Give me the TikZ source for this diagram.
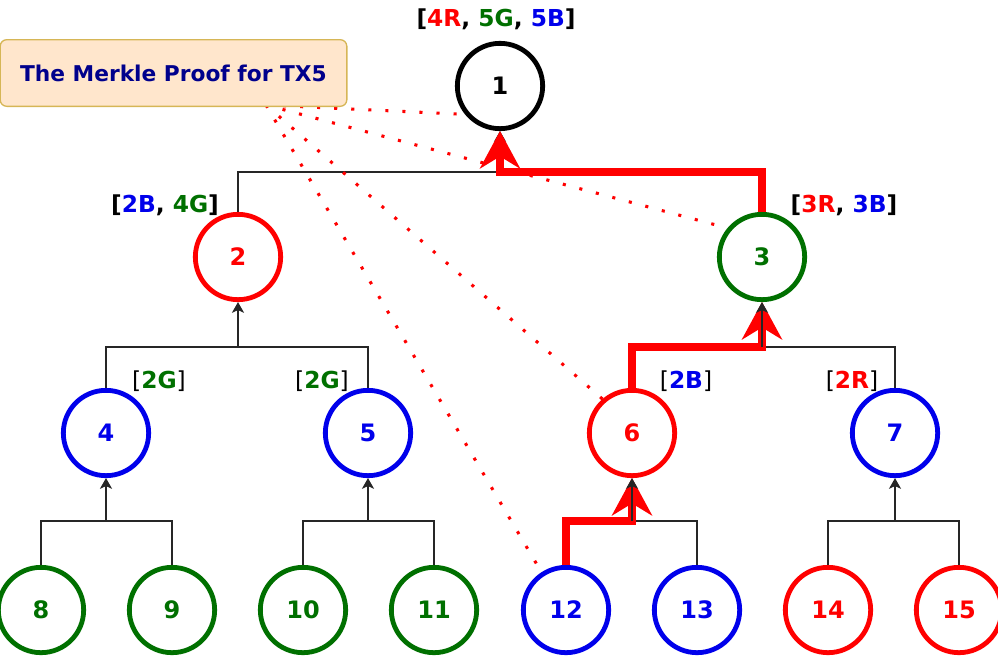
\documentclass[tikz,border=0pt]{standalone}
\usepackage{fontspec}
\setmainfont{DejaVu Sans}
\usetikzlibrary{arrows.meta}

\definecolor{hred}{RGB}{255,0,0}
\definecolor{hgreen}{RGB}{0,112,0}
\definecolor{hblue}{RGB}{0,0,235}
\definecolor{hnavy}{RGB}{0,0,140}
\definecolor{boxfill}{RGB}{255,230,204}
\definecolor{boxdraw}{RGB}{214,182,86}

\tikzset{every picture/.style={line width=0.75pt}}
\tikzset{
  hnode/.style={circle,draw=#1,text=#1,line width=3.6pt,minimum size=64pt,inner sep=0pt,
    font=\fontsize{18}{21}\selectfont\bfseries},
  hlabel/.style={inner sep=0.75pt,font=\fontsize{17.5}{20}\selectfont\bfseries},
  tree/.style={draw=black!85,line width=1.4pt},
  up/.style={tree,-{Stealth[length=8pt,width=9pt,inset=2pt]}},
  proof/.style={draw=hred,line width=5.5pt,-{Stealth[length=28pt,width=30pt,inset=9pt]}},
  proofdot/.style={draw=hred,line width=2.3pt,dash pattern=on 2.3pt off 10.5pt},
  titlebox/.style={draw=boxdraw,fill=boxfill,rounded corners=5pt,line width=1pt,
    minimum width=260pt,minimum height=50pt,text=hnavy,font=\fontsize{16.3}{19}\selectfont\bfseries},
}

\begin{document}
\begin{tikzpicture}[x=0.75pt,y=0.75pt,yscale=-1,xscale=1]
\useasboundingbox (0,0) rectangle (998,664);

%Shape: Circle (root)
\node[hnode=black] (n1) at (500,86) {1};
%Shape: Circle (level 1)
\node[hnode=hred] (n2) at (238,257) {2};
\node[hnode=hgreen] (n3) at (762,257) {3};
%Shape: Circle (level 2)
\node[hnode=hblue] (n4) at (106,433) {4};
\node[hnode=hblue] (n5) at (368,433) {5};
\node[hnode=hred] (n6) at (632,433) {6};
\node[hnode=hblue] (n7) at (895,433) {7};
%Shape: Circle (leaves)
\node[hnode=hgreen] (n8) at (41,610) {8};
\node[hnode=hgreen] (n9) at (172,610) {9};
\node[hnode=hgreen] (n10) at (303,610) {10};
\node[hnode=hgreen] (n11) at (434,610) {11};
\node[hnode=hblue] (n12) at (566,610) {12};
\node[hnode=hblue] (n13) at (697,610) {13};
\node[hnode=hred] (n14) at (828,610) {14};
\node[hnode=hred] (n15) at (959,610) {15};

%Joints
\coordinate (j1) at (n1 |- 0,172);
\coordinate (j2) at (n2 |- 0,347);
\coordinate (j3) at (n3 |- 0,347);
\coordinate (j4) at (n4 |- 0,521);
\coordinate (j5) at (n5 |- 0,521);
\coordinate (j6) at (n6 |- 0,521);
\coordinate (j7) at (n7 |- 0,521);

%Straight Lines (tree)
\draw[tree] (n2.north) |- (j1) -| (n3.north);
\draw[up] (j1) -- (n1.south);
\draw[tree] (n4.north) |- (j2) -| (n5.north);
\draw[up] (j2) -- (n2.south);
\draw[tree] (n6.north) |- (j3) -| (n7.north);
\draw[tree] (n8.north) |- (j4) -| (n9.north);
\draw[up] (j4) -- (n4.south);
\draw[tree] (n10.north) |- (j5) -| (n11.north);
\draw[up] (j5) -- (n5.south);
\draw[tree] (n12.north) |- (j6) -| (n13.north);
\draw[tree] (n14.north) |- (j7) -| (n15.north);
\draw[up] (j7) -- (n7.south);

%Straight Lines (proof path)
\draw[proof] (n12.north) |- (j6) -- (n6.south);
\draw[proof] (n6.north) |- (j3) -- (n3.south);
\draw[proof] (n3.north) |- (j1) -- (n1.south);
\draw[up] (j6) -- (n6.south);
\draw[up] (j3) -- (n3.south);

%Dotted Lines
\coordinate (src) at (266,105);
\draw[proofdot] (src) -- (n1.219);
\draw[proofdot] (src) -- (n3.140);
\draw[proofdot] (src) -- (n6.131);
\draw[proofdot] (src) -- (n12.123);

% Text Node
\node[titlebox] (title) at (173.5,73) {The Merkle Proof for TX5};

% Text Node
\node[hlabel] (l1) at (496,19) {[\textcolor{hred}{4R}, \textcolor{hgreen}{5G}, \textcolor{hblue}{5B}]};
% Text Node
\node[hlabel] (l2) at (165,205) {[\textcolor{hblue}{2B}, \textcolor{hgreen}{4G}]};
% Text Node
\node[hlabel] (l3) at (844,205) {[\textcolor{hred}{3R}, \textcolor{hblue}{3B}]};
% Text Node
\node[hlabel] (l4) at (159,381) {{\mdseries[}\textcolor{hgreen}{2G}{\mdseries]}};
% Text Node
\node[hlabel] (l5) at (322,381) {{\mdseries[}\textcolor{hgreen}{2G}{\mdseries]}};
% Text Node
\node[hlabel] (l6) at (686,381) {{\mdseries[}\textcolor{hblue}{2B}{\mdseries]}};
% Text Node
\node[hlabel] (l7) at (852,381) {{\mdseries[}\textcolor{hred}{2R}{\mdseries]}};

\end{tikzpicture}
\end{document}
